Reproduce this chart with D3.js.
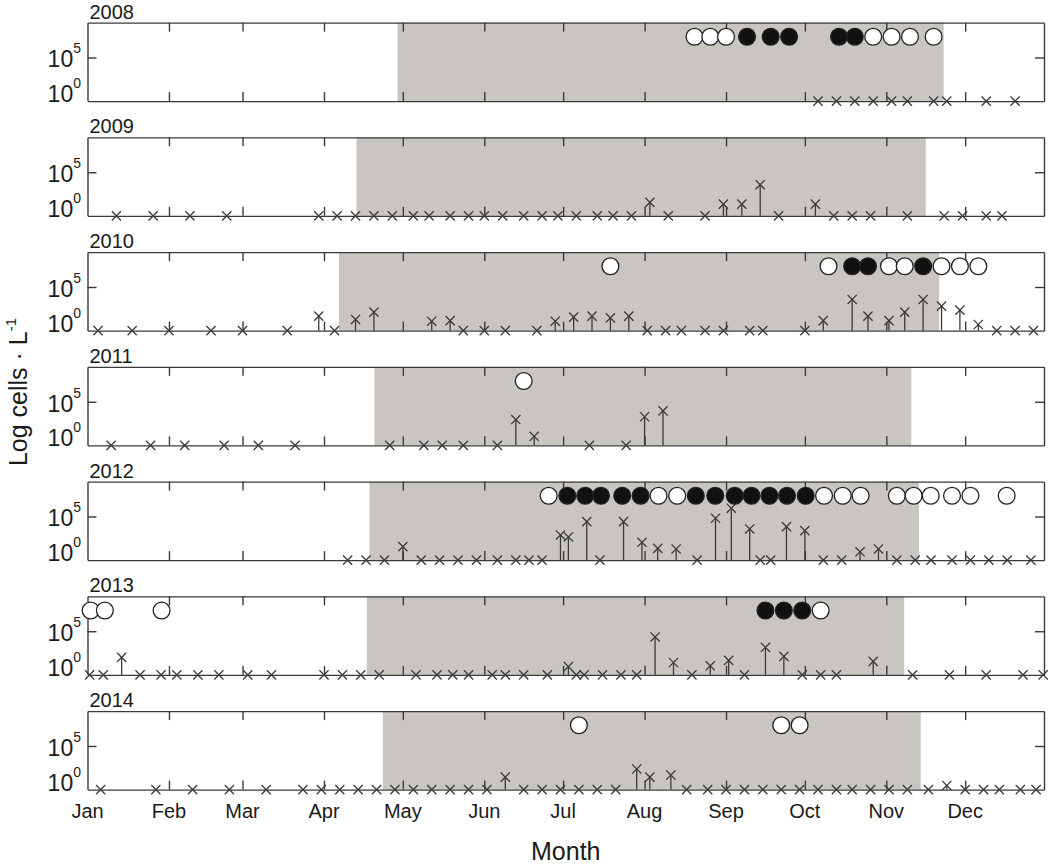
<!DOCTYPE html>
<html><head><meta charset="utf-8">
<script src="https://cdn.jsdelivr.net/npm/d3@7"></script>
<style>
body{margin:0;background:#fff;}
svg{display:block;font-family:"Liberation Sans",Arial,sans-serif;}
</style>
</head><body><svg id="chart" width="1050" height="864"></svg>
<script>
// ---------------- data ----------------
const years = [2008, 2009, 2010, 2011, 2012, 2013, 2014];
const shadeStart = [118, 102.4, 95.7, 109.2, 107.3, 106.3, 112.4];   // day of year
const shadeEnd   = [325.8, 319, 324.1, 313.5, 316.4, 310.8, 317.1];
const monthLabels = ["Jan","Feb","Mar","Apr","May","Jun","Jul","Aug","Sep","Oct","Nov","Dec"];
const monthStartDays = [0,31,59,90,120,151,181,212,243,273,304,334];
const yTickValues = [1, 1e5];
const yTickExponents = ["0", "5"];
const circleLevel = 2.4e7;

const days2008  = [278,285,292,299,306,312,322,327,342,353];
const cells2008 = [1,1,1,1,1,1,1,1,1,1];
const circDays2008 = [231,237,243,251,260,267,286,292,299,306,313,322];
const circFill2008 = [0,0,0,1,1,1,1,1,0,0,0,0];

const days2009  = [11,25,39,53,88,95,102,109,116,124,130,138,145,151,158,166,173,179,186,194,200,207,214,221,235,242,249,256,263,277,284,291,298,312,326,333,342,348];
const cells2009 = [1,1,1,1,1,1,1,1,1,1,1,1,1,1,1,1,1,1,1,1,1,1,35,1,1,22,22,3700,1,22,1,1,1,1,1,1,1,1];
const circDays2009 = [];
const circFill2009 = [];

const days2010  = [4,17,31,47,59,76,88,94,102,109,131,138,143,151,159,171,178,185,192,199,206,213,220,226,235,242,252,257,273,280,291,297,305,311,318,325,332,339,346,353,360];
const cells2010 = [1,1,1,1,1,1,45,1,19,130,12,14,1,1,1,1,12,35,45,29,45,1,1,1,1,1,1,1,1,14,3700,45,14,130,3700,630,220,5,1,1,1];
const circDays2010 = [199,282,291,297,305,311,318,325,332,339];
const circFill2010 = [0,0,1,1,0,0,1,0,0,0];

const days2011  = [9,24,37,52,65,79,115,128,135,143,156,163,170,191,205,212,219];
const cells2011 = [1,1,1,1,1,1,1,1,1,1,1,910,11,1,1,1900,9100];
const circDays2011 = [166];
const circFill2011 = [0];

const days2012  = [99,106,113,120,127,134,141,148,156,163,168,173,180,183,190,195,204,211,217,224,232,239,245,252,256,260,266,273,280,287,294,301,308,315,321,329,336,343,350,359];
const cells2012 = [1,1,1,35,1,1,1,1,1,1,1,1,760,450,26000,1,26000,110,22,19,1,63000,890000,3700,1,1,6900,2400,1,1,9,19,1,1,1,1,1,1,1,1];
const circDays2012 = [175.5,182.6,189.4,195.4,203.5,210.5,217.3,224.4,231.5,238.9,246.3,252.7,259.5,266.2,273.3,280.3,287.4,294.2,308,314.4,320.9,329,336,349.8];
const circFill2012 = [0,1,1,1,1,1,0,0,1,1,1,1,1,1,1,0,0,0,0,0,0,0,0,0];

const days2013  = [0.8,6,13,20,28,34,42,50,61,70,90,97,104,111,125,133,139,145,154,159,166,175,183,186,189,196,203,209,216,223,230,237,244,250,258,265,272,279,285,299,314,328,342,356,363.7];
const cells2013 = [1,1,100,1,1,1,1,1,1,1,1,1,1,1,1,1,1,1,1,1,1,1,9,1,1,1,1,1,22000,26,1,11,45,1,1400,130,1,1,1,35,1,1,1,1,1];
const circDays2013 = [1.2,6.6,28.2,258,265,272,279];
const circFill2013 = [0,0,0,1,1,1,0];

const days2014  = [5,26,40,54,68,82,89,96,103,110,117,124,131,138,145,152,159,166,173,180,187,194,201,209,214,222,228,236,243,250,257,264,271,278,285,291,298,305,312,320,327,334,341,347,355,361];
const cells2014 = [1,1,1,1,1,1,1,1,1,1,1,1,1,1,1,1,27,1,1,1,1,1,1,230,27,47,1,1,1,1,1,1,1,1,1,1,1,1,1,1,3,1,1,1,1,1];
const circDays2014 = [187,264,271];
const circFill2014 = [0,0,0];

const sampleDays = [days2008,days2009,days2010,days2011,days2012,days2013,days2014];
const sampleCells = [cells2008,cells2009,cells2010,cells2011,cells2012,cells2013,cells2014];
const circleDays = [circDays2008,circDays2009,circDays2010,circDays2011,circDays2012,circDays2013,circDays2014];
const circleFill = [circFill2008,circFill2009,circFill2010,circFill2011,circFill2012,circFill2013,circFill2014];

// ---------------- layout ----------------
const svg = d3.select("#chart");
const left = 87.5, right = 1044;
const top0 = 22.6, step = 114.75, panelH = 78.5;
const ink = "#3a3a3a";
const shade = "#c9c5c1";

const x = d3.scaleLinear().domain([0, 364]).range([left, right]);

years.forEach((yr, i) => {
  const top = top0 + i * step;
  const bottom = top + panelH;
  const y = d3.scaleLog().domain([1, 1e9]).range([bottom, top]);
  const g = svg.append("g");

  g.append("rect")
    .attr("x", x(shadeStart[i])).attr("y", top)
    .attr("width", x(shadeEnd[i]) - x(shadeStart[i])).attr("height", panelH)
    .attr("fill", shade);

  const tickDays = monthStartDays.slice(1);
  const axB = g.append("g").attr("transform", `translate(0,${bottom})`)
    .call(d3.axisBottom(x).tickValues(tickDays).tickSize(-9).tickSizeOuter(0).tickFormat(""));
  const axT = g.append("g").attr("transform", `translate(0,${top})`)
    .call(d3.axisTop(x).tickValues(tickDays).tickSize(-9).tickSizeOuter(0).tickFormat(""));
  const axL = g.append("g").attr("transform", `translate(${left},0)`)
    .call(d3.axisLeft(y).tickValues([1e5]).tickSize(-9).tickSizeOuter(0).tickFormat(""));
  const axR = g.append("g").attr("transform", `translate(${right},0)`)
    .call(d3.axisRight(y).tickValues([1e5]).tickSize(-9).tickSizeOuter(0).tickFormat(""));
  [axB, axT, axL, axR].forEach(a => {
    a.selectAll("path,line").attr("stroke", ink).attr("stroke-width", 1.4);
  });

  yTickValues.forEach((v, k) => {
    const base = k === 0 ? bottom + 1 : y(v) + 10;
    const t = g.append("text").attr("x", 81).attr("y", base)
      .attr("text-anchor", "end").attr("font-size", 23).attr("fill", "#1a1a1a");
    t.append("tspan").text("10");
    t.append("tspan").attr("dy", -14).attr("font-size", 14).text(yTickExponents[k]);
  });

  g.append("text").attr("x", 89.5).attr("y", top - 4)
    .attr("font-size", 20).attr("fill", "#1a1a1a").text(yr);

  const pts = sampleDays[i].map((d, k) => ({d, v: sampleCells[i][k]}));
  g.selectAll("line.stem").data(pts.filter(p => p.v > 1)).join("line")
    .attr("class", "stem")
    .attr("x1", p => x(p.d)).attr("x2", p => x(p.d))
    .attr("y1", y(1)).attr("y2", p => y(p.v))
    .attr("stroke", ink).attr("stroke-width", 1.3);

  const s = 4.6;
  g.selectAll("path.mark").data(pts).join("path")
    .attr("class", "mark")
    .attr("transform", p => `translate(${x(p.d)},${y(p.v)})`)
    .attr("d", `M${-s},${-s}L${s},${s}M${-s},${s}L${s},${-s}`)
    .attr("stroke", ink).attr("stroke-width", 1.3).attr("fill", "none");

  const cs = circleDays[i].map((d, k) => ({d, f: circleFill[i][k]}));
  g.selectAll("circle.ind").data(cs).join("circle")
    .attr("class", "ind")
    .attr("cx", c => x(c.d)).attr("cy", y(circleLevel)).attr("r", 8.4)
    .attr("fill", c => c.f ? "#111" : "#fff")
    .attr("stroke", "#222").attr("stroke-width", 1.3);
});

const lastBottom = top0 + 6 * step + panelH;
svg.append("g").selectAll("text").data(monthLabels).join("text")
  .attr("x", (m, k) => x(monthStartDays[k]))
  .attr("y", lastBottom + 28)
  .attr("text-anchor", "middle").attr("font-size", 20).attr("fill", "#1a1a1a")
  .text(m => m);

svg.append("text").attr("x", (left + right) / 2).attr("y", 860)
  .attr("text-anchor", "middle").attr("font-size", 25).attr("fill", "#1a1a1a").text("Month");

const yt = svg.append("text").attr("transform", "translate(27,392) rotate(-90)")
  .attr("text-anchor", "middle").attr("font-size", 25).attr("fill", "#1a1a1a");
yt.append("tspan").text("Log cells · L");
yt.append("tspan").attr("dy", -11).attr("font-size", 15).text("-1");
</script>
</body></html>
